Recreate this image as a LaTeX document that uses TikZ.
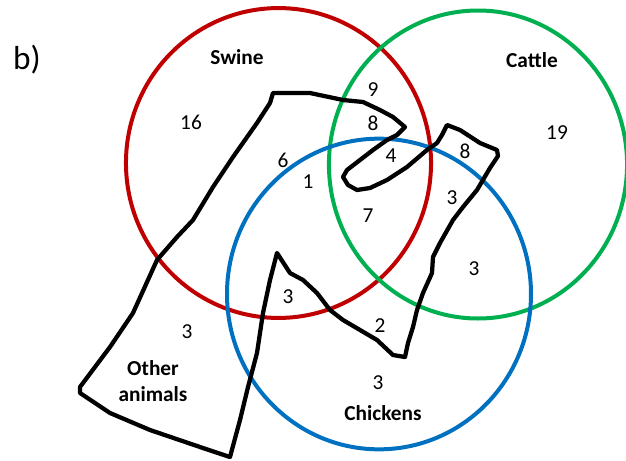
\documentclass[tikz,border=0pt]{standalone}
\usepackage{fontspec}
\setmainfont{Carlito}
\definecolor{swinered}{RGB}{192,0,0}
\definecolor{cattlegreen}{RGB}{0,176,80}
\definecolor{chickblue}{RGB}{0,112,192}
\begin{document}
\begin{tikzpicture}[x=0.75pt,y=-0.75pt,
  ring/.style={line width=3pt},
  outline/.style={line width=3.2pt,line join=round,black},
  lab/.style={font=\fontsize{16}{19}\selectfont\bfseries,inner sep=0pt},
  num/.style={font=\fontsize{16}{19}\selectfont,inner sep=0pt}]
\useasboundingbox (0,0) rectangle (626,461);
\coordinate (cs) at (278.5,163);
\coordinate (cc) at (478,164.5);
\coordinate (ck) at (379,294);
\draw[ring,swinered] (cs) ellipse [x radius=114.4pt,y radius=116.2pt];
\draw[ring,cattlegreen] (cc) ellipse [x radius=111.8pt,y radius=115.5pt];
\draw[ring,chickblue] (ck) ellipse [x radius=114pt,y radius=116.5pt];
\draw[outline] (273,93) -- (310,93) -- (343,100) -- (363,102) -- (380,110) -- (393,117) -- (405,127)
  -- (397,135) -- (387,140) -- (373,150) -- (360,160) -- (347,170) -- (343,177) -- (348,185)
  -- (357,190) -- (370,188) -- (387,180) -- (407,167) -- (427,150) -- (437,143) -- (442,135)
  -- (447,125) -- (460,130) -- (480,143) -- (497,150) -- (498,156) -- (490,168) -- (477,190)
  -- (463,207) -- (453,220) -- (440,243) -- (433,257) -- (432,273) -- (423,293) -- (417,310)
  -- (413,327) -- (408,343) -- (405,357) -- (393,355) -- (377,340) -- (360,330) -- (343,320)
  -- (330,310) -- (317,293) -- (303,280) -- (290,273) -- (277,253) -- (270,280) -- (263,313)
  -- (257,353) -- (248,387) -- (240,420) -- (230,457) -- (200,447) -- (150,430) -- (110,413)
  -- (80,393) -- (80,387) -- (110,347) -- (133,313) -- (157,260) -- (177,237) -- (193,220)
  -- (213,187) -- (233,157) -- (257,123) -- (270,103) -- cycle;
\node[font=\fontsize{25}{30}\selectfont,inner sep=0pt] (b) at (27,60) {b)};
\node[lab] (swine) at (237,57) {Swine};
\node[lab] (cattle) at (532,60) {Cattle};
\node[lab] (chickens) at (383,413) {Chickens};
\node[lab,align=center] (other) at (153,381) {Other\\animals};
\node[num] (n16) at (191,122) {16};
\node[num] (n6) at (283,160) {6};
\node[num] (n1) at (308,182) {1};
\node[num] (n9) at (373,90) {9};
\node[num] (n8a) at (373,123) {8};
\node[num] (n4) at (391,156) {4};
\node[num] (n8b) at (465,151) {8};
\node[num] (n19) at (557,133) {19};
\node[num] (n3a) at (452,198) {3};
\node[num] (n7) at (368,216) {7};
\node[num] (n3b) at (288,297) {3};
\node[num] (n3c) at (187,332) {3};
\node[num] (n3d) at (474,269) {3};
\node[num] (n2) at (380,326) {2};
\node[num] (n3e) at (378,383) {3};
\end{tikzpicture}
\end{document}
